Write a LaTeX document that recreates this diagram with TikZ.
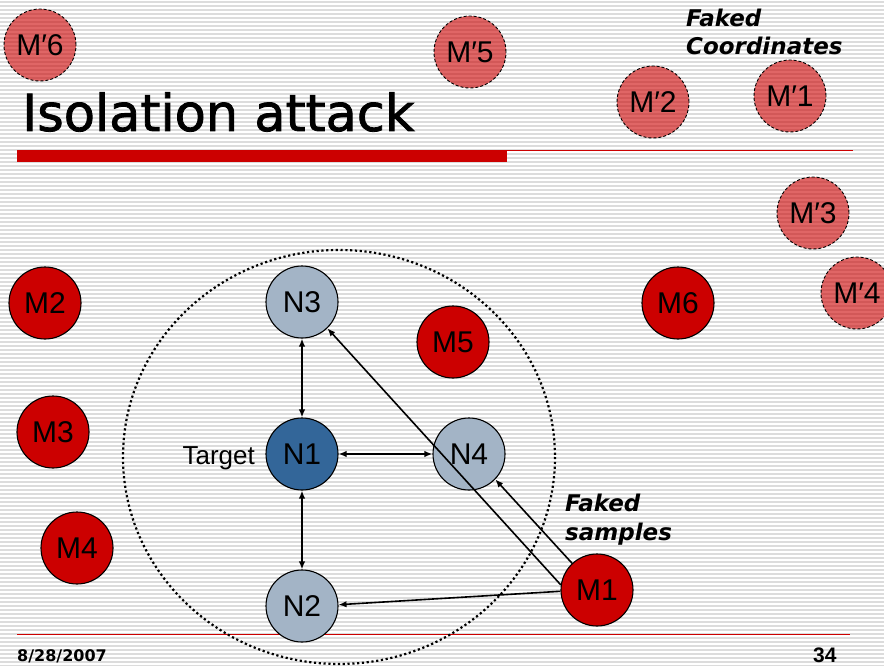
\documentclass[tikz,border=0pt]{standalone}
\usepackage{fontspec}
\setmainfont{Liberation Sans}
\newfontfamily\dejavu{DejaVu Sans}
\newfontfamily\titlefont[FakeBold=1.6]{DejaVu Sans}
\usetikzlibrary{arrows.meta}
\definecolor{mred}{HTML}{CC0000}
\definecolor{ngray}{HTML}{A3B4C6}
\definecolor{nblue}{HTML}{336699}
\definecolor{stripecol}{HTML}{DCDCDC}
\begin{document}
\begin{tikzpicture}[x=1pt,y=-1pt,
  base/.style={circle, minimum size=72pt, inner sep=0pt, draw=black, line width=1.1pt, font=\fontsize{30}{30}\selectfont},
  mal/.style={base, fill=mred},
  fake/.style={base, fill=mred, fill opacity=0.6, text opacity=1, draw opacity=1, dash pattern=on 3pt off 2pt, line width=0.9pt},
  good/.style={base, fill=ngray},
  tgtnode/.style={base, fill=nblue},
  link/.style={line width=1.6pt, {Latex[length=8pt,width=6.5pt]}-{Latex[length=8pt,width=6.5pt]}},
  attack/.style={line width=1.6pt, -{Latex[length=8pt,width=6.5pt]}},
  faketext/.style={font=\dejavu\bfseries\itshape\fontsize{23}{23}\selectfont, anchor=base west, inner sep=0pt},
  stripe/.style={stripecol, line width=1.3pt}
]
\useasboundingbox (0,0) rectangle (884,666);
\fill[white] (0,0) rectangle (884,666);
\foreach \y in {2,6,...,666} \draw[stripe] (0,\y) -- (884,\y);

% title
\node[anchor=base west, inner sep=0pt, font=\titlefont\fontsize{51}{51}\selectfont] (title) at (22,131) {Isolation attack};
\fill[mred] (17,150) rectangle (507,162);
\draw[mred, line width=1pt] (507,151) -- (853,151);
\draw[mred, line width=1pt] (17,634) -- (850,634);

% footer
\node[anchor=base west, inner sep=0pt, font=\dejavu\bfseries\fontsize{16}{16}\selectfont] (date) at (17,661) {8/28/2007};
\node[anchor=base west, inner sep=0pt, font=\bfseries\fontsize{21}{21}\selectfont] (page) at (813,662) {34};

% neighbourhood
\draw[line width=2.2pt, dash pattern=on 2.2pt off 2.6pt] (339,457) ellipse[x radius=216, y radius=207];

% faked coordinates
\node[fake] (Mp6) at (40,45) {M′6};
\node[fake] (Mp5) at (470,52) {M′5};
\node[fake] (Mp2) at (653,102) {M′2};
\node[fake] (Mp1) at (790,96) {M′1};
\node[fake] (Mp3) at (813,213) {M′3};
\node[fake] (Mp4) at (857,293) {M′4};
\node[faketext] (fc1) at (686,27) {Faked};
\node[faketext] (fc2) at (686,55) {Coordinates};

% malicious
\node[mal] (M2) at (45,303) {M2};
\node[mal] (M3) at (53,432) {M3};
\node[mal] (M4) at (77,548) {M4};
\node[mal] (M5) at (453,342) {M5};
\node[mal] (M6) at (678,303) {M6};
\node[mal] (M1) at (597,590) {M1};

% normal
\node[good] (N3) at (302,302) {N3};
\node[tgtnode] (N1) at (302,454) {N1};
\node[good] (N4) at (469,454) {N4};
\node[good] (N2) at (302,606) {N2};
\node[anchor=base east, inner sep=0pt, font=\fontsize{26}{26}\selectfont] (tgt) at (255,464) {Target};

\node[faketext] (fs1) at (565,511) {Faked};
\node[faketext] (fs2) at (565,540) {samples};

\draw[link] (N3) -- (N1);
\draw[link] (N1) -- (N4);
\draw[link] (N1) -- (N2);
\draw[attack] (M1.172) -- (N3.-46);
\draw[attack] (M1.133) -- (N4.-44);
\draw[attack] (M1.182) -- (N2.2);
\end{tikzpicture}
\end{document}
